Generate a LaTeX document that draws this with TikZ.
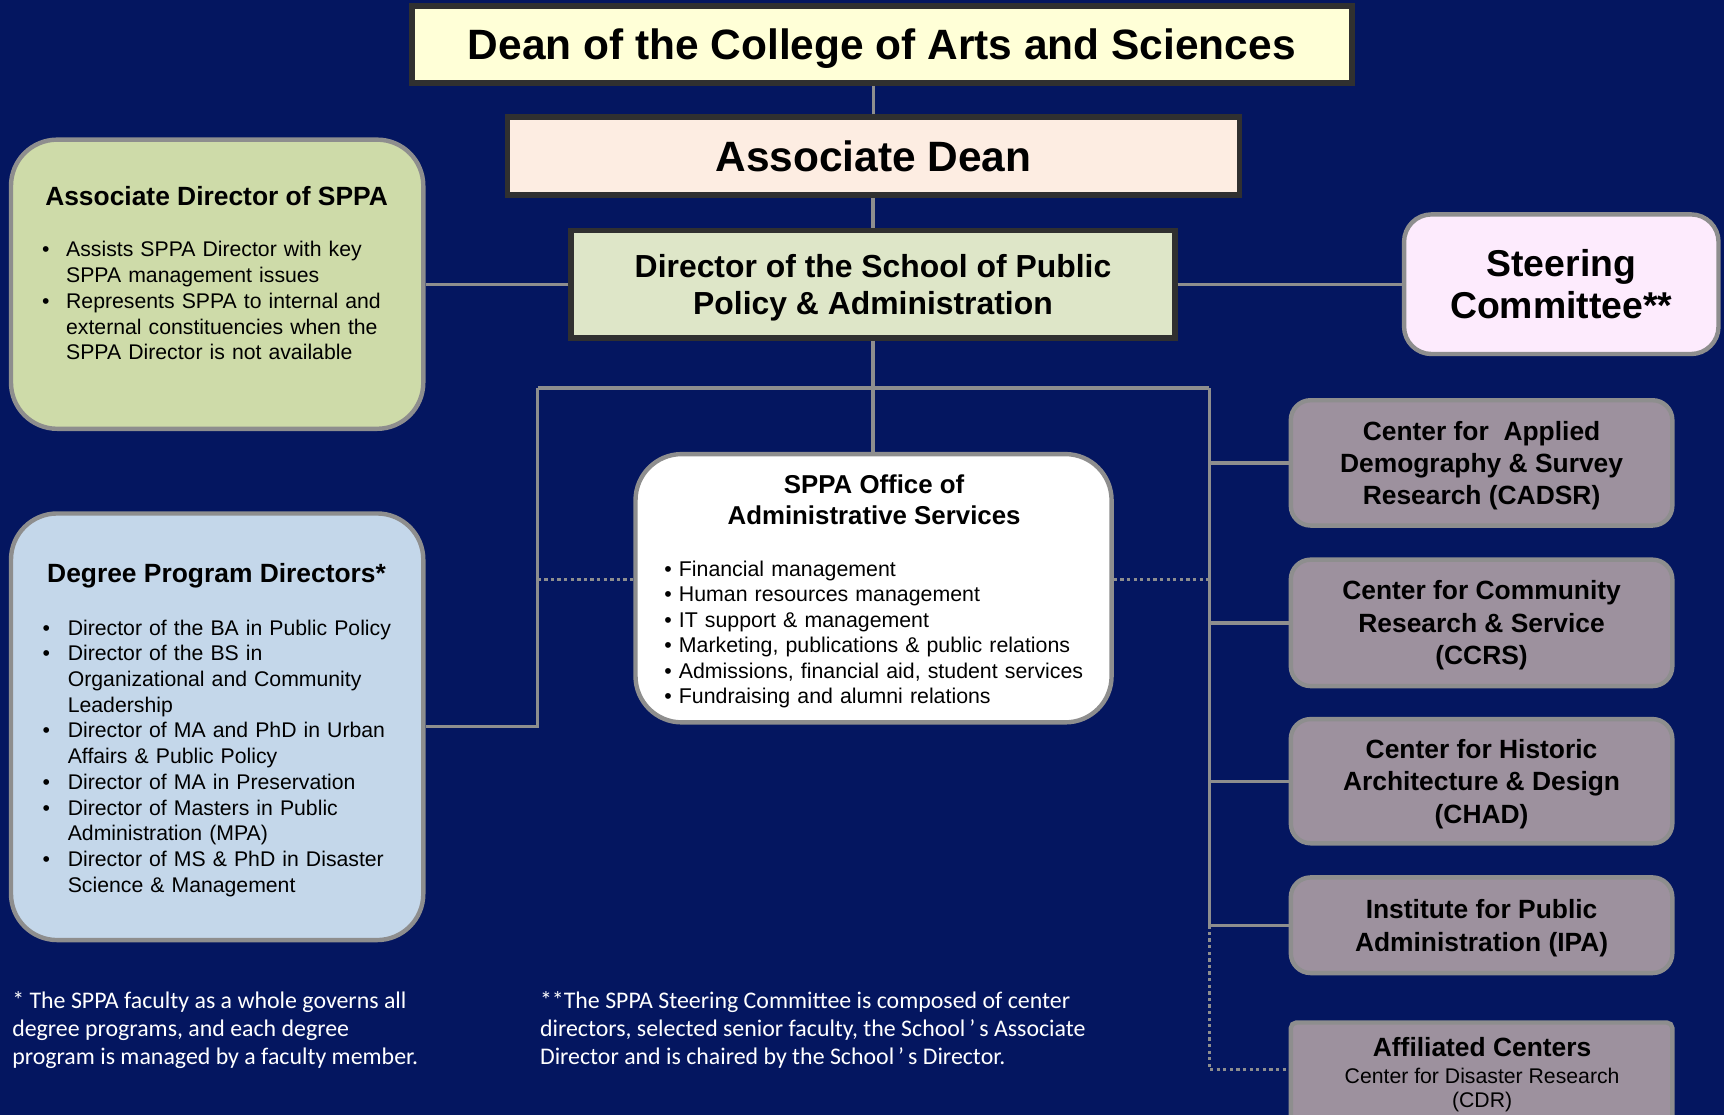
\documentclass[tikz,border=0pt]{standalone}
\usepackage{fontspec}
\setmainfont{Liberation Sans}
\newfontfamily\notefont{Carlito}
\usetikzlibrary{positioning}

\definecolor{navybg}{HTML}{041660}
\definecolor{deanfill}{HTML}{FFFFD7}
\definecolor{adeanfill}{HTML}{FDEDE2}
\definecolor{dirfill}{HTML}{DEE6C8}
\definecolor{steerfill}{HTML}{FDEBFD}
\definecolor{adirfill}{HTML}{CEDBA9}
\definecolor{dpdfill}{HTML}{C4D7EA}
\definecolor{centerfill}{HTML}{9D919E}
\definecolor{darkline}{HTML}{303030}
\definecolor{greyline}{HTML}{8E8E8E}

\newcommand{\bitem}[2]{\par\hangindent=#1\hangafter=1\noindent\makebox[#1][l]{•}#2\par}

\begin{document}
\begin{tikzpicture}[x=1pt,y=-1pt,
  headbox/.style={draw=darkline,line width=5pt,inner sep=0pt,align=center,text depth=0pt},
  softbox/.style={draw=greyline,line width=4pt,inner sep=0pt,rounded corners=42pt},
  centerbox/.style={draw=greyline,fill=centerfill,line width=4pt,rounded corners=18pt,inner sep=0pt,
    minimum width=347pt,align=center,text depth=0pt,font=\bfseries\fontsize{24}{29.5}\selectfont},
  listtext/.style={anchor=north west,inner sep=0pt,text width=#1,align=left,font=\fontsize{19.3}{23.4}\selectfont},
  boxtitle/.style={inner sep=0pt,font=\bfseries\fontsize{24}{28}\selectfont},
  notetext/.style={anchor=north west,inner sep=0pt,align=left,text=white,font=\notefont\fontsize{21.7}{25.2}\selectfont},
  link/.style={draw=greyline,line width=3pt},
  dotlink/.style={link,dash pattern=on 3pt off 3pt}]

\fill[navybg] (0,0) rectangle (1568,1014);
\useasboundingbox (0,0) rectangle (1568,1014);

% chain of command
\node[headbox,fill=deanfill,minimum width=855pt,minimum height=70pt,font=\bfseries\fontsize{38.6}{44}\selectfont] (dean) at (802,40.5) {Dean of the College of Arts and Sciences};
\node[headbox,fill=adeanfill,minimum width=666pt,minimum height=71pt,font=\bfseries\fontsize{38.6}{44}\selectfont] (adean) at (794.5,142) {Associate Dean};
\node[headbox,fill=dirfill,minimum width=549pt,minimum height=98pt,font=\bfseries\fontsize{29}{34}\selectfont] (director) at (794,258.5) {Director of the School of Public\\Policy \& Administration};
\node[softbox,fill=steerfill,rounded corners=25pt,minimum width=286pt,minimum height=127pt,align=center,font=\bfseries\fontsize{34}{38}\selectfont] (steering) at (1420,258.5) {Steering\\Committee**};

% left column
\node[softbox,fill=adirfill,minimum width=375pt,minimum height=263pt] (adir) at (197.5,258.5) {};
\node[boxtitle] (adirtitle) at (197,178) {Associate Director of SPPA};
\node[listtext=330pt] (adirlist) at (38,210) {\bitem{22pt}{Assists SPPA Director with key\newline SPPA management issues}
  \bitem{22pt}{Represents SPPA to internal and\newline external constituencies when the\newline SPPA Director is not available}};

\node[softbox,fill=dpdfill,minimum width=375pt,minimum height=388pt] (dpd) at (197.5,661) {};
\node[boxtitle] (dpdtitle) at (197,524) {Degree Program Directors*};
\node[listtext=335pt] (dpdlist) at (38.5,554) {\bitem{23pt}{Director of the BA in Public Policy}
  \bitem{23pt}{Director of the BS in\newline Organizational and Community\newline Leadership}
  \bitem{23pt}{Director of MA and PhD in Urban\newline Affairs \& Public Policy}
  \bitem{23pt}{Director of MA in Preservation}
  \bitem{23pt}{Director of Masters in Public\newline Administration (MPA)}
  \bitem{23pt}{Director of MS \& PhD in Disaster\newline Science \& Management}};

% office in the middle
\node[softbox,fill=white,minimum width=433pt,minimum height=244pt] (office) at (794.5,535) {};
\node[inner sep=0pt,align=center,font=\bfseries\fontsize{23.5}{29}\selectfont] (officetitle) at (795,454.5) {SPPA Office of\\Administrative Services};
\node[listtext=390pt,font=\fontsize{19.4}{23.2}\selectfont] (officelist) at (604,510) {• Financial management\\• Human resources management\\• IT support \& management\\• Marketing, publications \& public relations\\• Admissions, financial aid, student services\\• Fundraising and alumni relations};

% centers on the right
\node[centerbox,minimum height=114pt] (cadsr) at (1347.5,421) {Center for\ \ Applied\\Demography \& Survey\\Research (CADSR)};
\node[centerbox,minimum height=115pt] (ccrs) at (1347.5,566.5) {Center for Community\\Research \& Service\\(CCRS)};
\node[centerbox,minimum height=113pt] (chad) at (1347.5,710.5) {Center for Historic\\Architecture \& Design\\(CHAD)};
\node[centerbox,minimum height=87pt] (ipa) at (1347.5,841.5) {Institute for Public\\Administration (IPA)};
\node[centerbox,rounded corners=5pt,minimum height=98pt] (affil) at (1347.5,979) {};
\node[inner sep=0pt,anchor=north,align=center,font=\fontsize{19.3}{22}\selectfont] (affiltext) at (1348,943) {{\bfseries\fontsize{24}{26}\selectfont Affiliated Centers}\\[3pt]Center for Disaster Research\\(CDR)};

% connectors
\draw[link] (adean.north) -- (adean.north |- dean.south);
\draw[link] (director.north) -- (director.north |- adean.south);
\draw[link] (director.west) -- (adir.east);
\draw[link] (director.east) -- (steering.west);
\draw[link] (director.south) -- (director.south |- office.north);
\coordinate (barL) at (489,353);
\coordinate (barR) at (1100,353);
\draw[link] (barL) -- (barR);
\draw[link] (barL) |- (dpd.east);
\draw[link] (barR) |- (ipa.west);
\foreach \c in {cadsr,ccrs,chad}
  \draw[link] (barR |- \c.west) -- (\c.west);
\coordinate (dotrow) at (489,527);
\draw[dotlink] (dotrow) -- (dotrow -| office.west);
\draw[dotlink] (dotrow -| office.east) -- (dotrow -| barR);
\coordinate (affilturn) at (1100,973);
\draw[dotlink] (barR |- ipa.west) -- (affilturn) -- (affilturn -| affil.west);

% footnotes
\node[notetext] (facnote) at (11,902) {* The SPPA faculty as a whole governs all\\degree programs, and each degree\\program is managed by a faculty member.};
\node[notetext] (steernote) at (491,902) {**The SPPA Steering Committee is composed of center\\directors, selected senior faculty, the School\,’\,s Associate\\Director and is chaired by the School\,’\,s Director.};
\end{tikzpicture}
\end{document}
